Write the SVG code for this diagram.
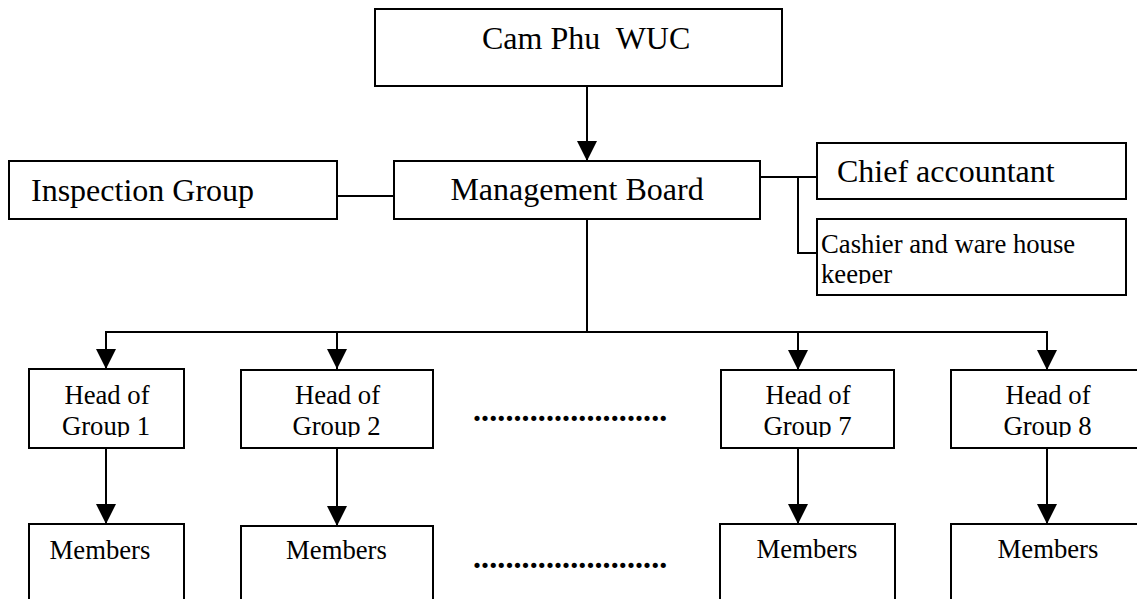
<svg xmlns="http://www.w3.org/2000/svg" width="1137" height="599" viewBox="0 0 1137 599">
<style>
.box{fill:#fff;stroke:#000;stroke-width:2}
.ln{fill:none;stroke:#000;stroke-width:2}
text{font-family:'Liberation Serif','DejaVu Serif',serif;fill:#000}
.big{font-size:32px}
.sm{font-size:26.7px}
.mid{text-anchor:middle}
.dots{font-weight:bold;font-size:32px;letter-spacing:0.1px}
</style>
<defs>
<marker id="ah" markerUnits="userSpaceOnUse" markerWidth="20" markerHeight="20" refX="20" refY="10" orient="auto">
<path d="M0,0 L20,10 L0,20 Z" fill="#000"/>
</marker>
<clipPath id="clipHead"><rect x="0" y="360" width="1137" height="77"/></clipPath>
<clipPath id="clipCash"><rect x="817" y="219" width="309" height="65"/></clipPath>
</defs>
<rect width="1137" height="599" fill="#fff"/>

<g id="connectors">
<line class="ln" x1="587" y1="86" x2="587" y2="161" marker-end="url(#ah)"/>
<line class="ln" x1="337" y1="196" x2="394" y2="196"/>
<polyline class="ln" points="760,177 817,177"/>
<polyline class="ln" points="798,177 798,253 817,253"/>
<line class="ln" x1="587" y1="219" x2="587" y2="333"/>
<line class="ln" x1="105" y1="332" x2="1048" y2="332"/>
<line class="ln" x1="106" y1="332" x2="106" y2="369" marker-end="url(#ah)"/>
<line class="ln" x1="337" y1="332" x2="337" y2="369" marker-end="url(#ah)"/>
<line class="ln" x1="798" y1="332" x2="798" y2="370" marker-end="url(#ah)"/>
<line class="ln" x1="1047" y1="332" x2="1047" y2="370" marker-end="url(#ah)"/>
<line class="ln" x1="106" y1="448" x2="106" y2="524" marker-end="url(#ah)"/>
<line class="ln" x1="337" y1="448" x2="337" y2="526" marker-end="url(#ah)"/>
<line class="ln" x1="798" y1="448" x2="798" y2="524" marker-end="url(#ah)"/>
<line class="ln" x1="1047" y1="448" x2="1047" y2="524" marker-end="url(#ah)"/>
</g>

<g id="camphu">
<rect class="box" x="375" y="9" width="407" height="77"/>
<text class="big" x="482" y="49" xml:space="preserve">Cam Phu  WUC</text>
</g>

<g id="management">
<rect class="box" x="394" y="161" width="366" height="58"/>
<text class="big mid" x="577" y="200">Management Board</text>
</g>

<g id="inspection">
<rect class="box" x="9" y="161" width="328" height="58"/>
<text class="big" x="31" y="201">Inspection Group</text>
</g>

<g id="chief">
<rect class="box" x="817" y="143" width="309" height="56"/>
<text class="big" x="837" y="182">Chief accountant</text>
</g>

<g id="cashier">
<rect class="box" x="817" y="219" width="309" height="76"/>
<g clip-path="url(#clipCash)">
<text class="sm" x="821" y="253">Cashier and ware house</text>
<text class="sm" x="821" y="283">keeper</text>
</g>
</g>

<g id="head1">
<rect class="box" x="29" y="369" width="155" height="79"/>
<g clip-path="url(#clipHead)">
<text class="sm mid" x="107" y="404">Head of</text>
<text class="sm mid" x="106" y="435">Group 1</text>
</g>
</g>

<g id="head2">
<rect class="box" x="241" y="370" width="192" height="78"/>
<g clip-path="url(#clipHead)">
<text class="sm mid" x="337.5" y="404">Head of</text>
<text class="sm mid" x="336.5" y="435">Group 2</text>
</g>
</g>

<g id="head7">
<rect class="box" x="721" y="370" width="173" height="78"/>
<g clip-path="url(#clipHead)">
<text class="sm mid" x="808" y="404">Head of</text>
<text class="sm mid" x="807.5" y="435">Group 7</text>
</g>
</g>

<g id="head8">
<rect class="box" x="951" y="370" width="200" height="78"/>
<g clip-path="url(#clipHead)">
<text class="sm mid" x="1048" y="404">Head of</text>
<text class="sm mid" x="1047.5" y="435">Group 8</text>
</g>
</g>

<g id="members1">
<rect class="box" x="29" y="524" width="155" height="90"/>
<text class="sm mid" x="100" y="559">Members</text>
</g>

<g id="members2">
<rect class="box" x="241" y="526" width="192" height="90"/>
<text class="sm mid" x="336.5" y="559">Members</text>
</g>

<g id="members7">
<rect class="box" x="720" y="524" width="175" height="90"/>
<text class="sm mid" x="807" y="558">Members</text>
</g>

<g id="members8">
<rect class="box" x="951" y="524" width="200" height="90"/>
<text class="sm mid" x="1048" y="558">Members</text>
</g>

<g id="ellipsis">
<text class="dots" x="473" y="421">........................</text>
<text class="dots" x="473" y="568">........................</text>
</g>
</svg>
